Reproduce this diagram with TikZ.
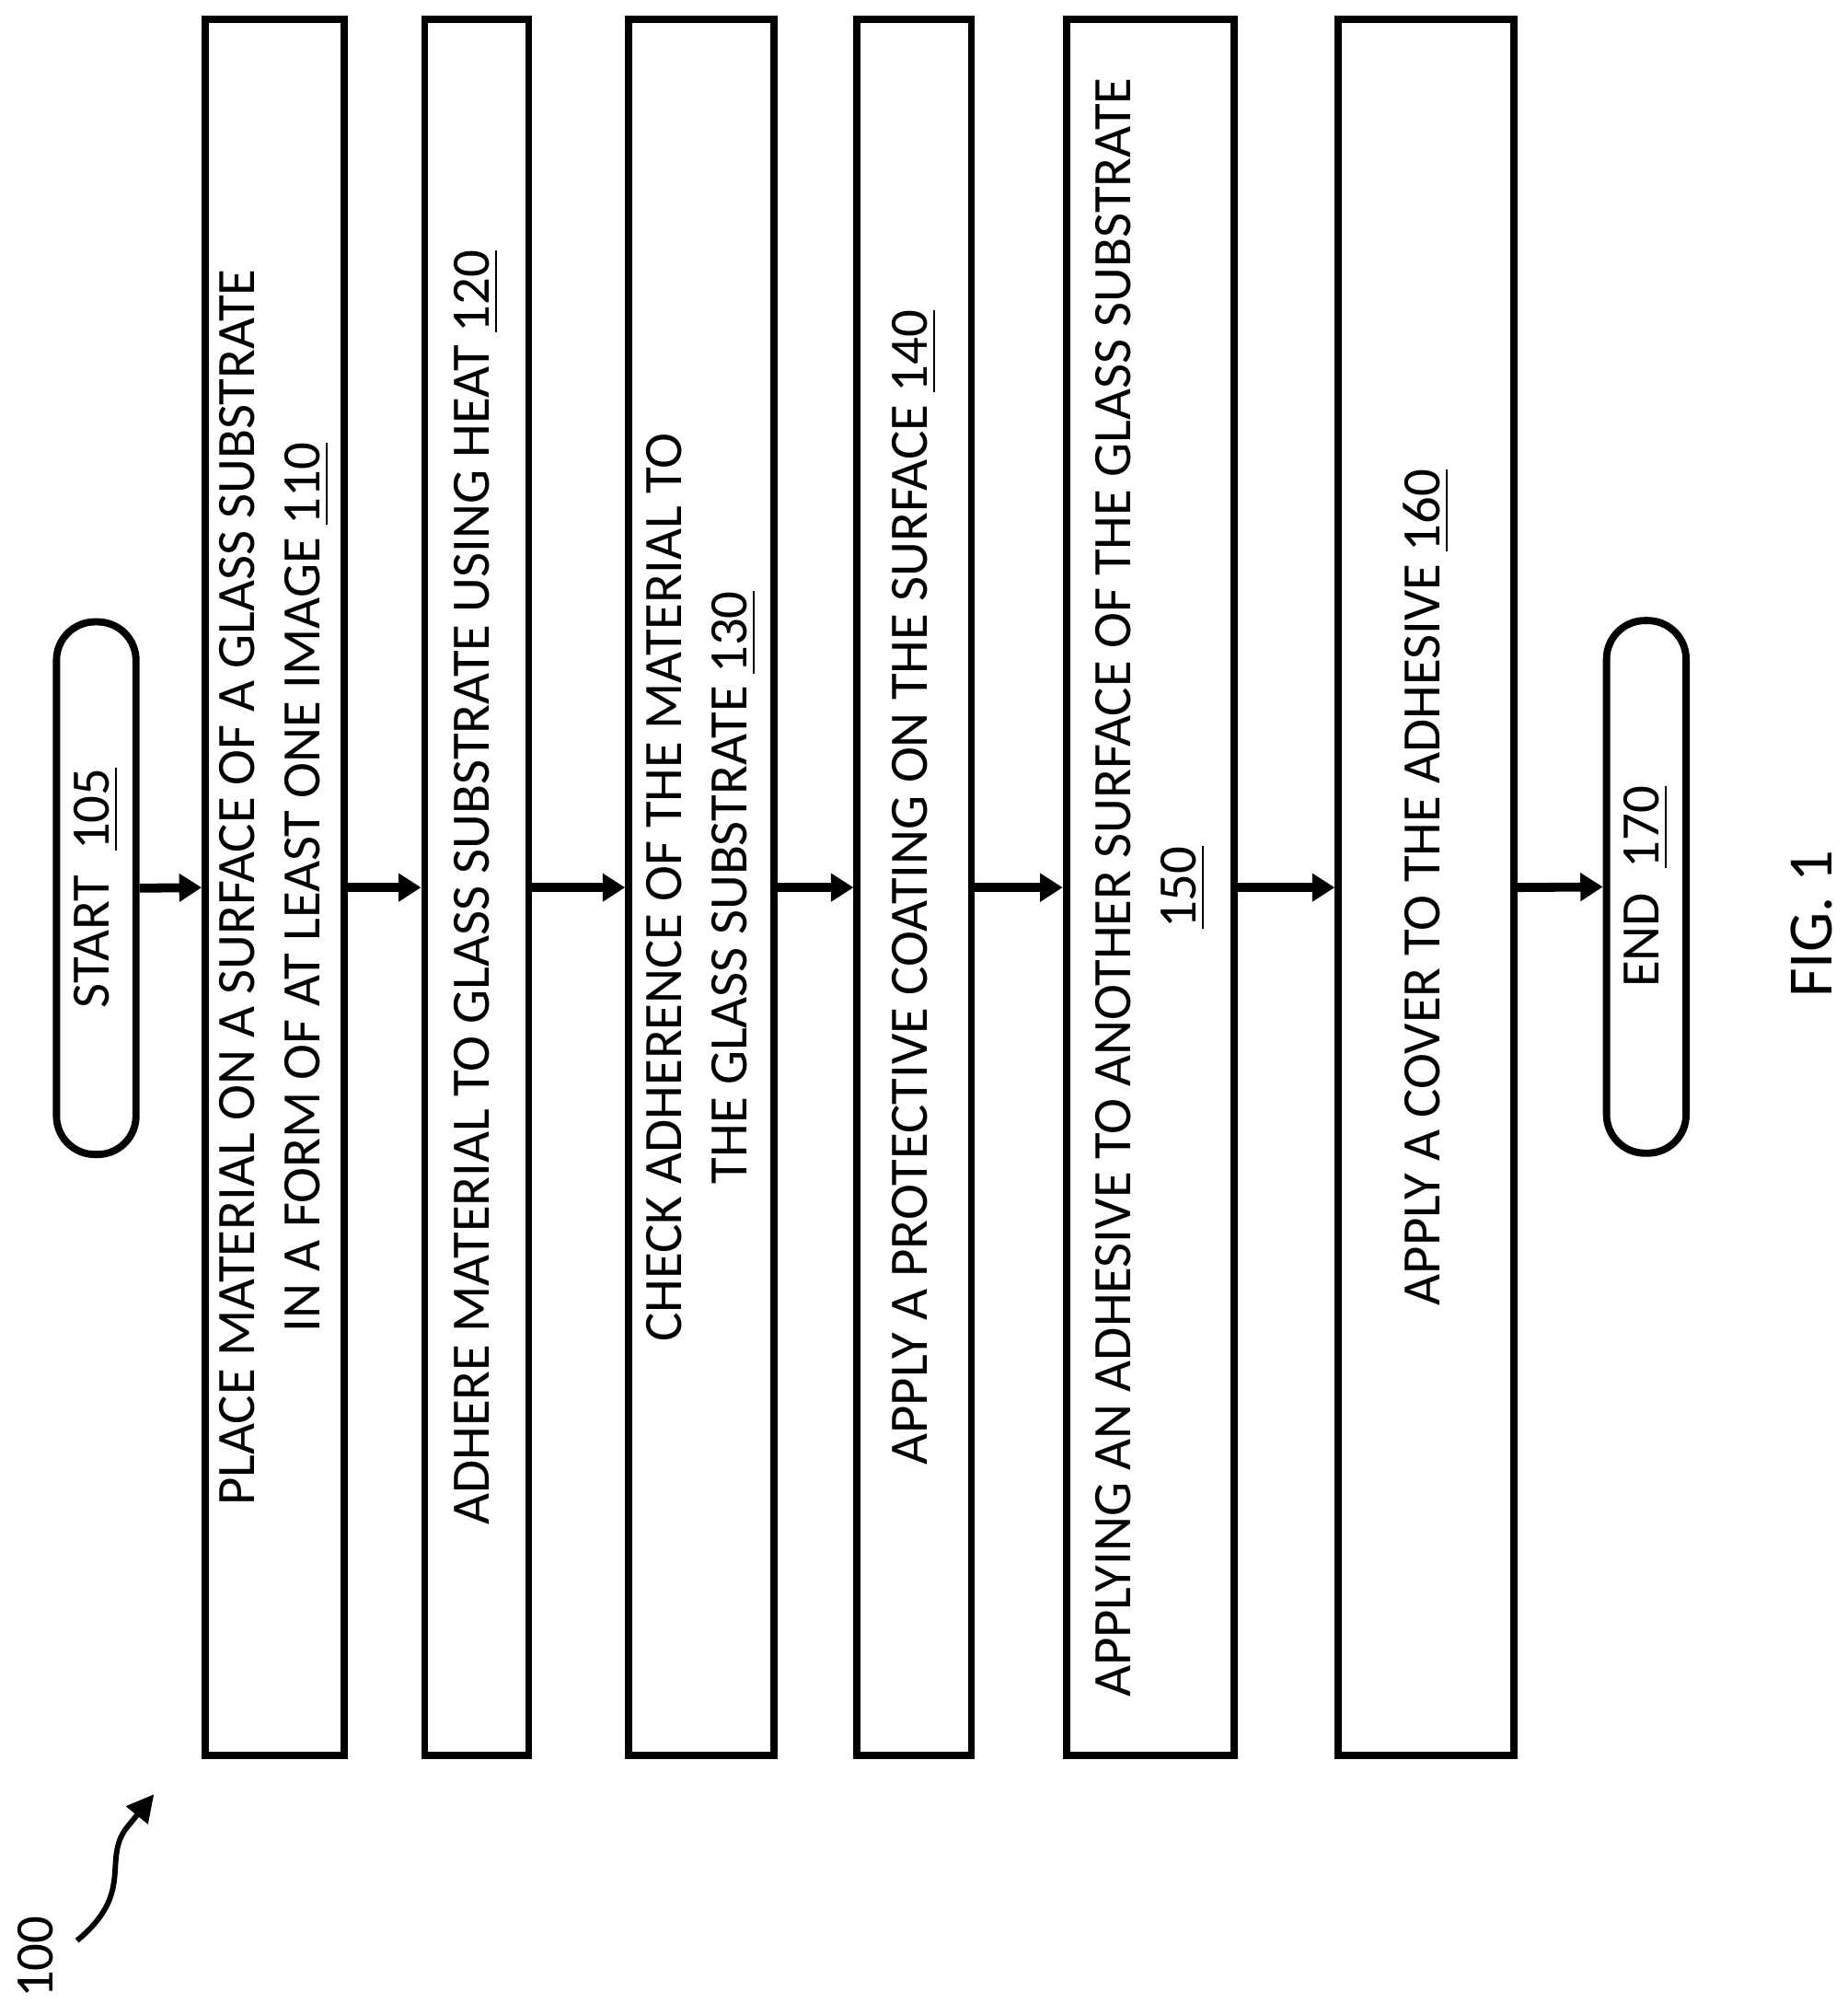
\documentclass[tikz,border=0pt]{standalone}
\usepackage{fontspec}
\setmainfont{Carlito}
\usetikzlibrary{arrows.meta}
\tikzset{
  step/.style={draw, line width=1.6pt, rotate=90, minimum height=#1, inner sep=2pt,
    align=center, font=\fontsize{12}{14.5}\selectfont, minimum width=13.53cm},
  term/.style={draw, line width=1.6pt, rotate=90, rounded corners=0.3cm, minimum height=0.62cm,
    minimum width=4.15cm, inner sep=1pt, font=\fontsize{12}{14.5}\selectfont},
  flow/.style={-{Triangle[length=5pt,width=6pt]}, line width=2pt}
}
\begin{document}
\begin{tikzpicture}[x=1cm,y=1cm]
  \useasboundingbox (0,0) rectangle (14.40,-15.70);
  % terminals
  \node[term] (start) at (0.75,-6.92) {START \ \underline{105}};
  \node[term] (end) at (12.83,-6.91) {END \ \underline{170}};
  % steps
  \node[step=1.08cm] (s110) at (2.14,-6.915) {PLACE MATERIAL ON A SURFACE OF A GLASS SUBSTRATE\\IN A FORM OF AT LEAST ONE IMAGE \underline{110}};
  \node[step=0.81cm] (s120) at (3.715,-6.915) {ADHERE MATERIAL TO GLASS SUBSTRATE USING HEAT \underline{120}};
  \node[step=1.13cm] (s130) at (5.465,-6.915) {CHECK ADHERENCE OF THE MATERIAL TO\\THE GLASS SUBSTRATE \underline{130}};
  \node[step=0.89cm] (s140) at (7.125,-6.915) {APPLY A PROTECTIVE COATING ON THE SURFACE \underline{140}};
  \node[step=1.31cm] (s150) at (8.965,-6.915) {APPLYING AN ADHESIVE TO ANOTHER SURFACE OF THE GLASS SUBSTRATE\\\underline{150}};
  \node[step=1.37cm] (s160) at (11.115,-6.915) {APPLY A COVER TO THE ADHESIVE \underline{160}};
  % connectors
  \foreach \a/\b in {start/s110, s110/s120, s120/s130, s130/s140, s140/s150, s150/s160, s160/end}
    \draw[flow] (\a.south) -- (\b.north);
  % labels
  \node[rotate=90, font=\fontsize{14}{16}\selectfont] (fig) at (14.12,-7.2) {FIG. 1};
  \node[rotate=90, font=\fontsize{12}{14.5}\selectfont] (ref) at (0.28,-15.25) {100};
  \coordinate (tail) at (0.60,-15.12);
  \coordinate (tip) at (1.20,-13.98);
  \draw[line width=1.2pt, -{Triangle[length=6pt,width=6pt]}] (tail) .. controls (1.05,-14.75) and (0.80,-14.50) .. (0.98,-14.25) -- (tip);
\end{tikzpicture}
\end{document}
